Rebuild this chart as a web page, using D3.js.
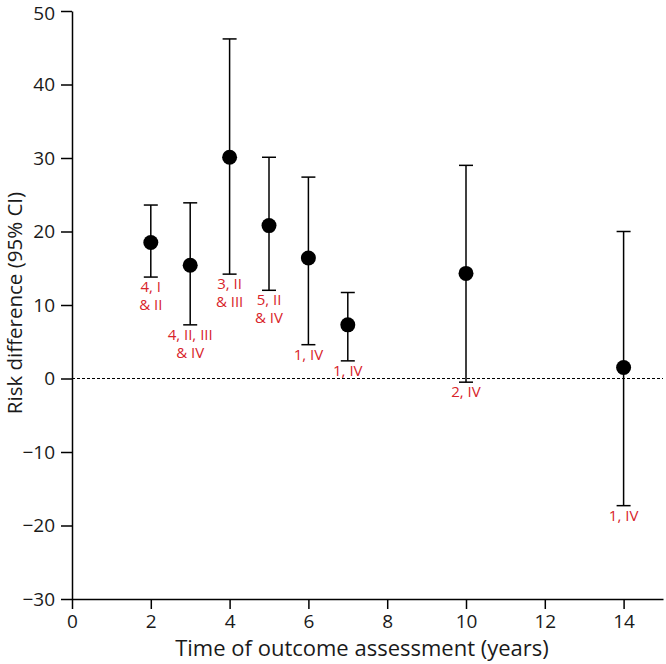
<!DOCTYPE html>
<html><head><meta charset="utf-8">
<script src="https://cdn.jsdelivr.net/npm/d3@7"></script>
<style>body{margin:0;background:#fff}svg{display:block;font-family:"Open Sans",sans-serif}</style>
</head><body><svg id="c" width="666" height="664"></svg>
<script>
const years = [2, 3, 4, 5, 6, 7, 10, 14];
const estimates = [18.5, 15.4, 30.1, 20.8, 16.4, 7.3, 14.3, 1.5];
const lowerCI = [13.8, 7.3, 14.2, 12.0, 4.6, 2.4, -0.5, -17.3];
const upperCI = [23.6, 23.9, 46.2, 30.1, 27.4, 11.7, 29.0, 20.0];
const labelLine1 = ["4, I", "4, II, III", "3, II", "5, II", "1, IV", "1, IV", "2, IV", "1, IV"];
const labelLine2 = ["& II", "& IV", "& III", "& IV", "", "", "", ""];
const xTicks = [0, 2, 4, 6, 8, 10, 12, 14];
const yTicks = [-30, -20, -10, 0, 10, 20, 30, 40, 50];

const svg = d3.select("#c");
const x = d3.scaleLinear().domain([0, 15]).range([72, 663]);
const y = d3.scaleLinear().domain([-30, 50]).range([599, 11]);

const xAxis = svg.append("g").attr("transform", `translate(0,${y(-30)})`)
  .call(d3.axisBottom(x).tickValues(xTicks).tickSize(10).tickPadding(6).tickSizeOuter(0));
const yAxis = svg.append("g").attr("transform", `translate(${x(0)},0)`)
  .call(d3.axisLeft(y).tickValues(yTicks).tickSize(11).tickPadding(6).tickSizeOuter(0)
    .tickFormat(d => d < 0 ? "\u2212" + Math.abs(d) : d));
[xAxis, yAxis].forEach(g => {
  g.select(".domain").attr("stroke", "#000").attr("stroke-width", 1.5);
  g.selectAll(".tick line").attr("stroke", "#000").attr("stroke-width", 1.5);
  g.selectAll(".tick text").attr("fill", "#1a1a1a").style("font-size", "19px").style("font-family", "'Open Sans',sans-serif");
});
// nudge the top tick label slightly so it stays inside the picture
yAxis.selectAll(".tick text").filter(d => d === 50).attr("dy", "0.45em");

svg.append("line").attr("x1", x(0)).attr("x2", x(15)).attr("y1", y(0)).attr("y2", y(0))
  .attr("stroke", "#000").attr("stroke-width", 1.2).attr("stroke-dasharray", "3,2");

const g = svg.append("g");
years.forEach((yr, i) => {
  const cx = x(yr);
  g.append("line").attr("x1", cx).attr("x2", cx).attr("y1", y(lowerCI[i])).attr("y2", y(upperCI[i]))
    .attr("stroke", "#000").attr("stroke-width", 1.5);
  [lowerCI[i], upperCI[i]].forEach(v => {
    g.append("line").attr("x1", cx - 7).attr("x2", cx + 7).attr("y1", y(v)).attr("y2", y(v))
      .attr("stroke", "#000").attr("stroke-width", 1.5);
  });
  g.append("circle").attr("cx", cx).attr("cy", y(estimates[i])).attr("r", 7.5).attr("fill", "#000");
  g.append("text").attr("x", cx).attr("y", y(lowerCI[i]) + 15).attr("text-anchor", "middle")
    .attr("fill", "#d8232a").style("font-size", "15px").text(labelLine1[i]);
  if (labelLine2[i]) g.append("text").attr("x", cx).attr("y", y(lowerCI[i]) + 33).attr("text-anchor", "middle")
    .attr("fill", "#d8232a").style("font-size", "15px").text(labelLine2[i]);
});

svg.append("text").attr("x", 362).attr("y", 656).attr("text-anchor", "middle")
  .attr("fill", "#1a1a1a").style("font-size", "22px").text("Time of outcome assessment (years)");
svg.append("text").attr("transform", "translate(22,303) rotate(-90)").attr("text-anchor", "middle")
  .attr("fill", "#1a1a1a").style("font-size", "20.5px").text("Risk difference (95% CI)");
</script></body></html>
